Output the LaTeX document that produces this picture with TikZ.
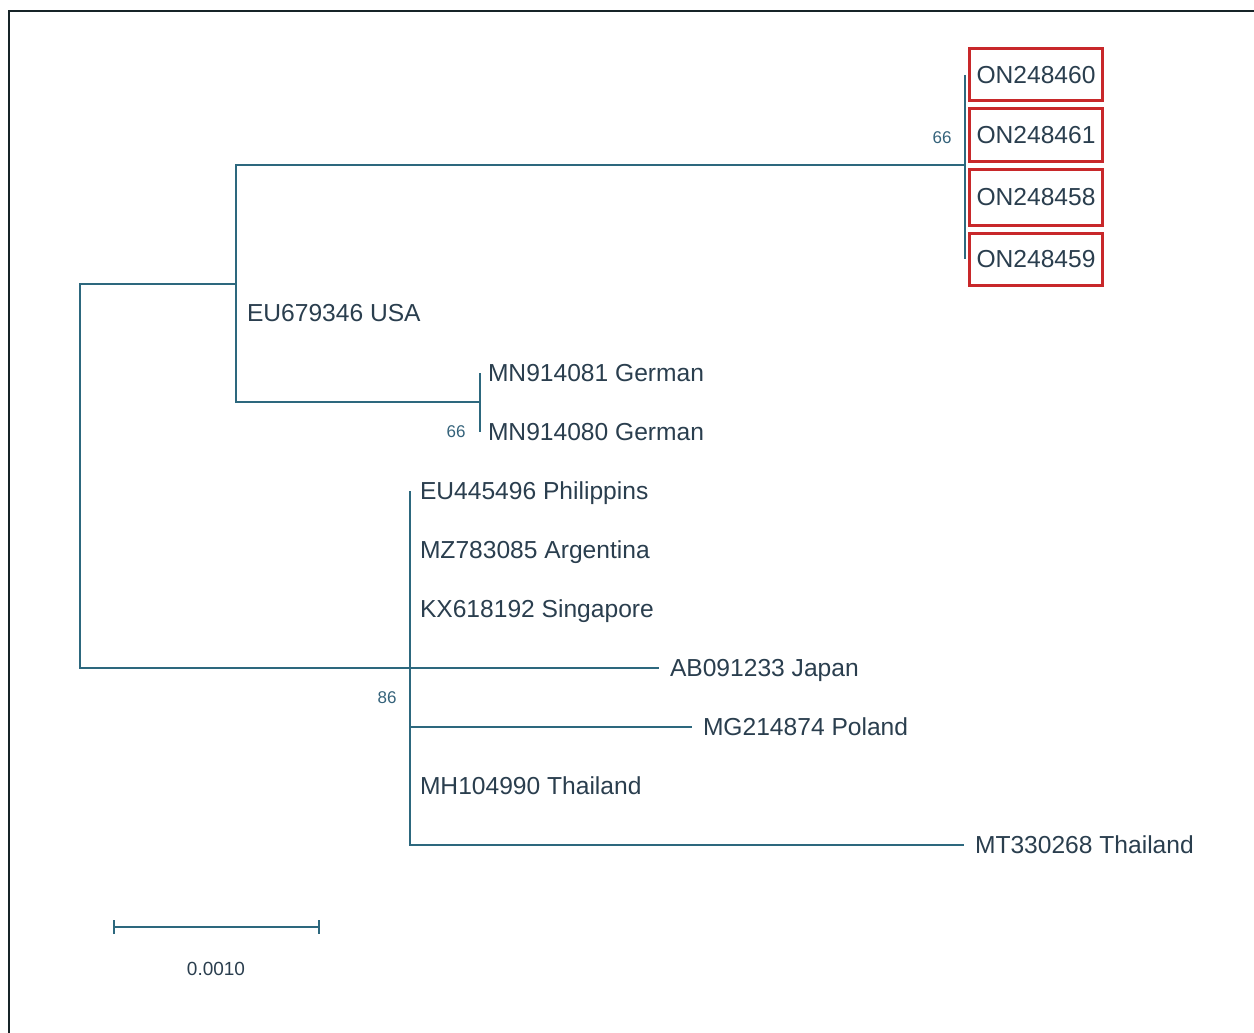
\documentclass[tikz,border=0pt]{standalone}
\usepackage{fontspec}
\setmainfont{Liberation Sans}
\usetikzlibrary{positioning, arrows.meta}
\definecolor{treeline}{RGB}{45,104,126}
\definecolor{treetext}{RGB}{42,62,78}
\definecolor{supcol}{RGB}{52,98,122}
\definecolor{boxred}{RGB}{200,40,42}
\definecolor{framecol}{RGB}{22,36,40}

\begin{document}
\begin{tikzpicture}[x=1pt, y=-1pt, node distance=5pt,
		branch/.style={draw=treeline, line width=2pt},
		leaf/.style={anchor=west, inner sep=0pt, outer xsep=11pt, text height=17.6pt, text depth=0pt,
			text=treetext, font=\fontsize{24.6}{30}\selectfont},
		onbox/.style={draw=boxred, line width=3pt, inner xsep=7pt, minimum height=52pt, text height=17.6pt,
			text depth=0pt, text=treetext, font=\fontsize{24.6}{30}\selectfont},
		support/.style={text=supcol, inner sep=0pt, font=\fontsize{17}{20}\selectfont}]
			\useasboundingbox (0,0) rectangle (1254,1033);
			\draw[framecol, line width=2.5pt] (9,1033) -- (9,11) -- (1254,11);

			\coordinate (root) at (80,475);
			\coordinate (nA)   at (236,284);
			\coordinate (nON)  at (965,165);
			\coordinate (nDE)  at (480,402);
			\coordinate (nB)   at (410,667);

			\node[onbox, anchor=west]  (on60)  at (968,75) {ON248460};
			\node[onbox, below=of on60.south west, anchor=north west]  (on61)  {ON248461};
			\node[onbox, below=of on61.south west, anchor=north west, minimum height=56pt]  (on58)  {ON248458};
			\node[onbox, below=of on58.south west, anchor=north west]  (on59)  {ON248459};

			\node[leaf]  (usa)   at (236,313) {EU679346 USA};
			\node[leaf]  (de81)  at (477,373) {MN914081 German};
			\node[leaf]  (de80)  at (477,432) {MN914080 German};
			\node[leaf]  (ph)    at (409,491) {EU445496 Philippins};
			\node[leaf]  (ar)    at (409,550) {MZ783085 Argentina};
			\node[leaf]  (sg)    at (409,609) {KX618192 Singapore};
			\node[leaf]  (jp)    at (659,668) {AB091233 Japan};
			\node[leaf]  (pl)    at (692,727) {MG214874 Poland};
			\node[leaf]  (th90)  at (409,786) {MH104990 Thailand};
			\node[leaf]  (th68)  at (964,845) {MT330268 Thailand};

			\node[support]  (s1)  at (942,138) {66};
			\node[support]  (s2)  at (456,432) {66};
			\node[support]  (s3)  at (387,698) {86};

			\draw[branch] (root) |- (nA) ;
			\draw[branch] (root) |- (jp.west) ;
			\draw[branch] (nA) |- (nON) ;
			\draw[branch] (nA) |- (nDE) ;
			\draw[branch] (nON |- on60.center) -- (nON |- on59.center) ;
			\draw[branch] (nDE |- de81.west) -- (nDE |- de80.west) ;
			\draw[branch] (nB |- ph.west) -- (nB |- th68.west) ;
			\draw[branch] (nB) |- (pl.west) ;
			\draw[branch] (nB) |- (th68.west) ;

			\coordinate (barL) at (113,927);
			\coordinate (barR) at (320,927);
			\node[text=treetext, font=\fontsize{19}{22}\selectfont]  (scale)  at (216,969) {0.0010};
			\draw[branch, {Bar[width=14pt]}-{Bar[width=14pt]}] (barL) -- (barR) ;
		\end{tikzpicture}
\end{document}
